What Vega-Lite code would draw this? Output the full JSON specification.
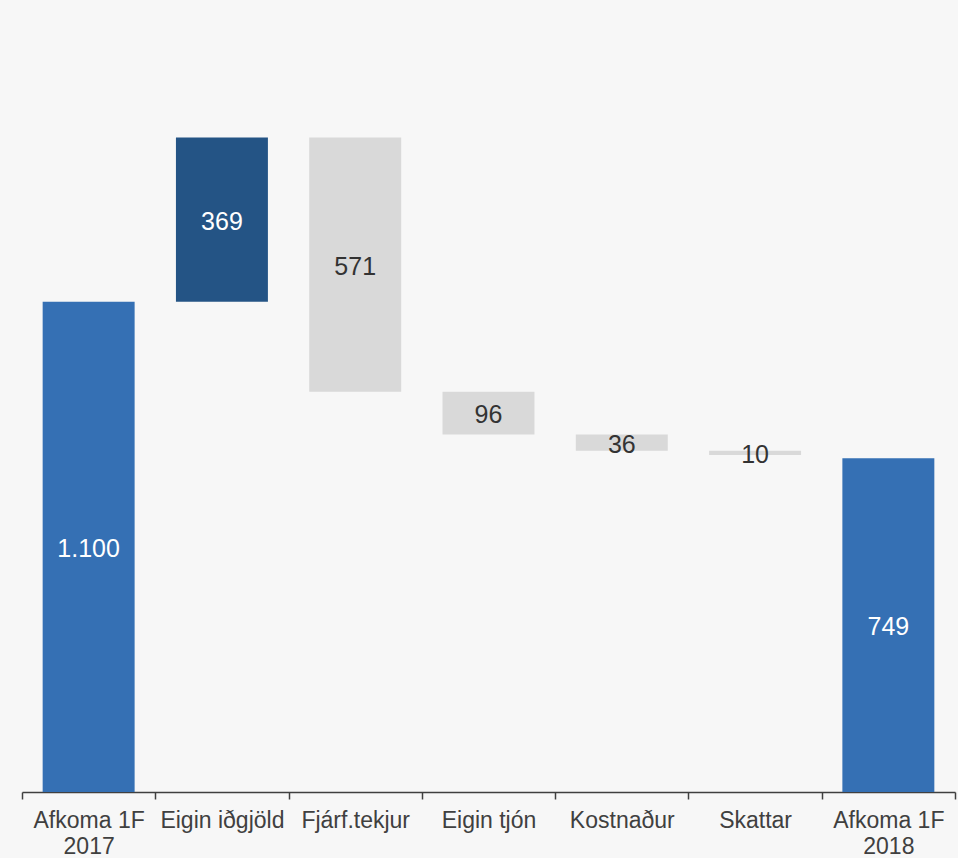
{
  "$schema": "https://vega.github.io/schema/vega-lite/v6.json",
  "width": 933,
  "height": 713,
  "autosize": "none",
  "padding": {"left": 22, "top": 79, "right": 3, "bottom": 66},
  "background": "#f7f7f7",
  "config": {
    "view": {"stroke": null},
    "font": "Liberation Sans"
  },
  "data": {
    "values": [
      {"category": "Afkoma 1F|2017", "start": 0, "end": 1100, "label": "1.100", "type": "total"},
      {"category": "Eigin iðgjöld", "start": 1100, "end": 1469, "label": "369", "type": "increase"},
      {"category": "Fjárf.tekjur", "start": 1469, "end": 898, "label": "571", "type": "decrease"},
      {"category": "Eigin tjón", "start": 898, "end": 802, "label": "96", "type": "decrease"},
      {"category": "Kostnaður", "start": 802, "end": 766, "label": "36", "type": "decrease"},
      {"category": "Skattar", "start": 766, "end": 756, "label": "10", "type": "decrease"},
      {"category": "Afkoma 1F|2018", "start": 0, "end": 749, "label": "749", "type": "total"}
    ]
  },
  "transform": [
    {"calculate": "(datum.start + datum.end) / 2", "as": "mid"}
  ],
  "encoding": {
    "x": {
      "field": "category",
      "type": "nominal",
      "sort": null,
      "scale": {"paddingInner": 0, "paddingOuter": 0},
      "axis": {
        "title": null,
        "labelAngle": 0,
        "labelExpr": "split(datum.label, '|')",
        "labelFontSize": 23,
        "labelColor": "#404040",
        "labelLineHeight": 26,
        "labelPadding": 10,
        "tickBand": "extent",
        "tickSize": 7,
        "tickColor": "#404040",
        "domainColor": "#404040",
        "tickWidth": 1.5,
        "domainWidth": 1.5,
        "labelBaseline": "top"
      }
    }
  },
  "layer": [
    {
      "mark": {"type": "bar", "width": {"band": 0.69}},
      "encoding": {
        "y": {
          "field": "start",
          "type": "quantitative",
          "scale": {"domain": [0, 1600], "nice": false},
          "axis": null
        },
        "y2": {"field": "end"},
        "color": {
          "field": "type",
          "type": "nominal",
          "scale": {
            "domain": ["total", "increase", "decrease"],
            "range": ["#3570b4", "#245485", "#d9d9d9"]
          },
          "legend": null
        }
      }
    },
    {
      "mark": {"type": "text", "fontSize": 25, "baseline": "middle", "align": "center", "dy": 2},
      "encoding": {
        "y": {"field": "mid", "type": "quantitative"},
        "text": {"field": "label"},
        "color": {
          "condition": {"test": "datum.type === 'decrease'", "value": "#333333"},
          "value": "#ffffff"
        }
      }
    }
  ]
}
